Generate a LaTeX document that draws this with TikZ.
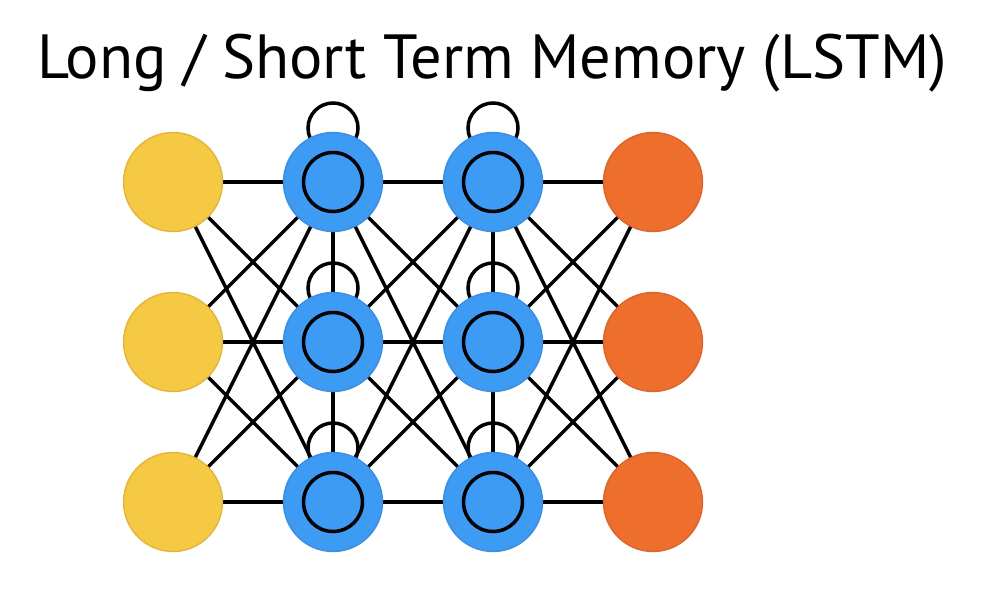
\documentclass[tikz,border=0pt]{standalone}
\usepackage{fontspec}
\setmainfont{PT Sans}
\usetikzlibrary{calc}
\definecolor{inyel}{HTML}{F6C944}
\definecolor{inyelB}{HTML}{E2B63C}
\definecolor{hidblue}{HTML}{3E9BF3}
\definecolor{hidblueB}{HTML}{3A8EE0}
\definecolor{outor}{HTML}{EE6E2E}
\definecolor{outorB}{HTML}{D9652B}
\begin{document}
\begin{tikzpicture}[x=0.02cm,y=-0.02cm,
  neuron/.style={circle,minimum size=1.98cm,inner sep=0pt,line width=0.8pt},
  inn/.style={neuron,fill=inyel,draw=inyelB},
  hid/.style={neuron,fill=hidblue,draw=hidblueB},
  outn/.style={neuron,fill=outor,draw=outorB},
  conn/.style={line width=2pt,black},
  memcell/.style={circle,minimum size=1.18cm,inner sep=0pt,draw=black,line width=2pt}]
\useasboundingbox (0,0) rectangle (984,604);
\node[font=\fontsize{35.5}{40}\selectfont,anchor=base] (title) at (492,79) {Long / Short Term Memory (LSTM)};
% coordinates
\foreach \r/\y in {1/182,2/342,3/502}{
  \coordinate (i\r) at (173,\y);
  \coordinate (a\r) at (333,\y);
  \coordinate (b\r) at (493,\y);
  \coordinate (o\r) at (653,\y);
}
% connections
\foreach \p in {1,2,3}{\foreach \q in {1,2,3}{
  \draw[conn] (i\p) -- (a\q);
  \draw[conn] (a\p) -- (b\q);
  \draw[conn] (b\p) -- (o\q);
}}
\draw[conn] (a1) -- (a2) -- (a3);
\draw[conn] (b1) -- (b2) -- (b3);
% self loops
\foreach \c in {a,b}{\foreach \r in {1,2,3}{
  \draw[conn] ($(\c\r)+(0,-54)$) circle[radius=0.5cm];
}}
% nodes
\foreach \r in {1,2,3}{
  \node[inn] (I\r) at (i\r) {};
  \node[hid] (A\r) at (a\r) {};
  \node[hid] (B\r) at (b\r) {};
  \node[outn] (O\r) at (o\r) {};
  \node[memcell] (MA\r) at (a\r) {};
  \node[memcell] (MB\r) at (b\r) {};
}
\end{tikzpicture}
\end{document}
